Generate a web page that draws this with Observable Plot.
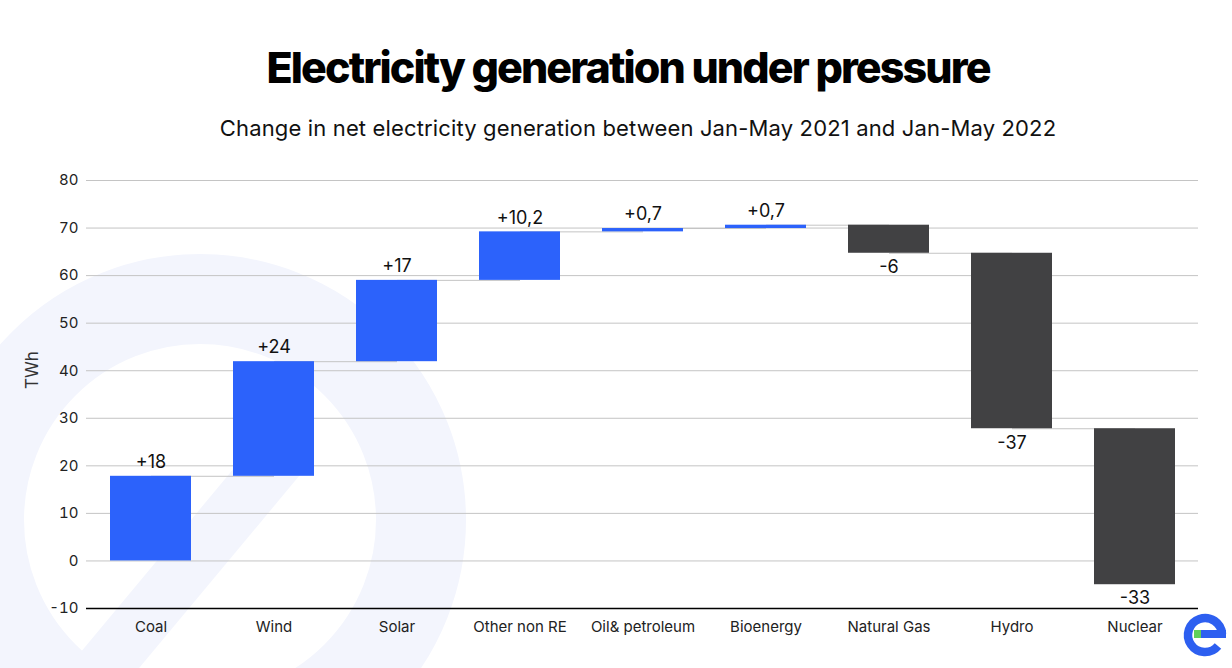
<!DOCTYPE html>
<html><head><meta charset="utf-8">
<script src="https://cdn.jsdelivr.net/npm/d3@7"></script>
<script src="https://cdn.jsdelivr.net/npm/@observablehq/plot@0.6"></script>
<style>
body{margin:0;background:#fff;font-family:Inter,"Noto Sans",sans-serif;color:#111}
#wrap{position:relative;width:1232px;height:668px;overflow:hidden;background:#fff}
#bg{position:absolute;left:0;top:0}
#title{position:absolute;top:41px;left:0;width:1232px;text-align:center;font-size:43px;font-weight:800;letter-spacing:-1.9px;line-height:52px;color:#000;padding-left:24px;box-sizing:border-box}
#subtitle{position:absolute;top:113px;left:0;width:1232px;text-align:center;font-size:22px;font-weight:400;letter-spacing:0.15px;line-height:30px;padding-left:44px;box-sizing:border-box;color:#111}
#ylab{position:absolute;left:32px;top:370px;transform:translate(-50%,-50%) rotate(-90deg);font-size:17px;color:#333;white-space:nowrap}
#chart{position:absolute;left:0;top:160px}
</style></head>
<body><div id="wrap">
<svg id="bg" width="1232" height="668">
  <circle cx="200" cy="520" r="221" fill="none" stroke="#f3f5fd" stroke-width="90"/>
  <line x1="85" y1="690" x2="285" y2="450" stroke="#f3f5fd" stroke-width="55"/>
  <g transform="translate(1205,635)">
    <path d="M 17 -1 A 17 17 0 1 0 13 11" fill="none" stroke="#2d5ff0" stroke-width="8.5"/>
    <rect x="-11" y="-5" width="7" height="8" fill="#5fd05a"/>
    <rect x="-4" y="-5" width="25" height="8" fill="#2d5ff0"/>
  </g>
</svg>
<div id="title">Electricity generation under pressure</div>
<div id="subtitle">Change in net electricity generation between Jan-May 2021 and Jan-May 2022</div>
<div id="ylab">TWh</div>
<div id="chart"></div>
</div>
<script>
const categories = ["Coal","Wind","Solar","Other non RE","Oil& petroleum","Bioenergy","Natural Gas","Hydro","Nuclear"];
const changes = [17.8, 24.1, 17.1, 10.2, 0.7, 0.7, -5.9, -36.9, -32.8];
const valueLabels = ["+18","+24","+17","+10,2","+0,7","+0,7","-6","-37","-33"];
const yTicks = [-10,0,10,20,30,40,50,60,70,80];

let run = 0;
const rows = categories.map((c,i) => {
  const start = run; run += changes[i];
  return {cat:c, start, end:run, delta:changes[i], label:valueLabels[i]};
});
const links = rows.slice(0,-1).map((r,i) => ({a:r.cat, b:rows[i+1].cat, y:r.end}));

const chart = Plot.plot({
  width:1232, height:508,
  marginTop:20, marginBottom:60, marginLeft:86, marginRight:34,
  style:{fontFamily:"Inter, 'Noto Sans', sans-serif", fontSize:"15px", color:"#222", background:"transparent"},
  x:{domain:categories, paddingInner:0.345, paddingOuter:0.1725, label:null, tickSize:0, tickPadding:13},
  y:{domain:[-10,80], ticks:yTicks, tickFormat:d=>String(d), label:null, tickSize:0, tickPadding:8},
  marks:[
    Plot.ruleY(yTicks.filter(d=>d>-10), {stroke:"#c4c4c4", strokeWidth:1}),
    Plot.link(links, {x1:"a", x2:"b", y1:"y", y2:"y", stroke:"#c4c4c4", strokeWidth:1}),
    Plot.barY(rows, {x:"cat", y1:"start", y2:"end", fill:d=>d.delta>=0?"#2c62fb":"#414143"}),
    Plot.ruleY([-10], {stroke:"#000", strokeWidth:1.5}),
    Plot.text(rows.filter(d=>d.delta>=0), {x:"cat", y:"end", text:"label", dy:-14, fontSize:18, fill:"#111"}),
    Plot.text(rows.filter(d=>d.delta<0), {x:"cat", y:"end", text:"label", dy:14, fontSize:18, fill:"#111"})
  ]
});
document.getElementById("chart").appendChild(chart);
</script>
</body></html>
